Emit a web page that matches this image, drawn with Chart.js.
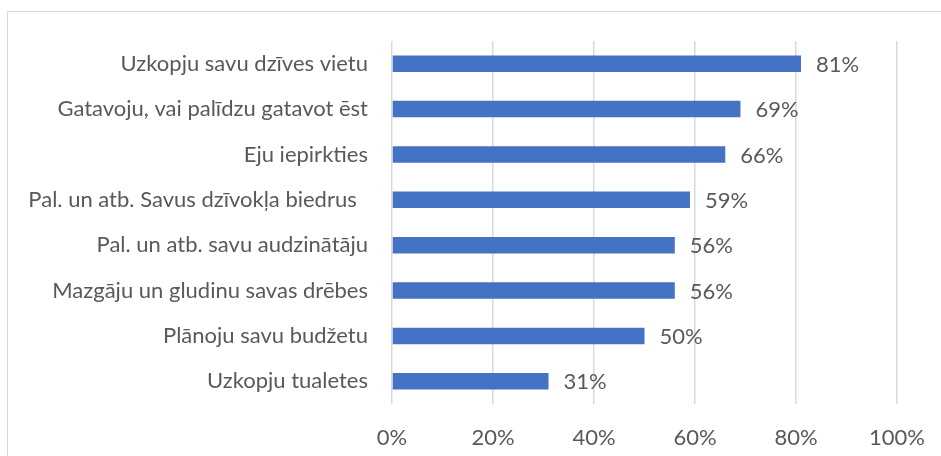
<!DOCTYPE html>
<html>
<head>
<meta charset="utf-8">
<script src="https://cdn.jsdelivr.net/npm/chart.js@4/dist/chart.umd.min.js"></script>
<style>
html,body{margin:0;padding:0;background:#fff;overflow:hidden;}
#wrap{position:relative;width:941px;height:456px;}
#frame{position:absolute;left:7px;top:11px;width:1000px;height:500px;border:1.5px solid #d9d9d9;box-sizing:border-box;}
canvas{position:absolute;left:0;top:0;}
</style>
</head>
<body>
<div id="wrap">
<div id="frame"></div>
<canvas id="c" width="941" height="456"></canvas>
</div>
<script>
const categories = [
  "Uzkopju savu dzīves vietu",
  "Gatavoju, vai palīdzu gatavot ēst",
  "Eju iepirkties",
  "Pal. un atb. Savus dzīvokļa biedrus  ",
  "Pal. un atb. savu audzinātāju",
  "Mazgāju un gludinu savas drēbes",
  "Plānoju savu budžetu",
  "Uzkopju tualetes"
];
const values = [81, 69, 66, 59, 56, 56, 50, 31];
const tickValues = [0, 20, 40, 60, 80, 100];

const FONT = "Lato, 'Open Sans', sans-serif";
const TEXT = "#595959";
const FS = 22;

const valueLabels = {
  id: 'valueLabels',
  afterDatasetsDraw(chart) {
    const ctx = chart.ctx;
    const meta = chart.getDatasetMeta(0);
    ctx.save();
    ctx.font = FS + "px " + FONT;
    ctx.fillStyle = TEXT;
    ctx.textAlign = 'left';
    ctx.textBaseline = 'middle';
    meta.data.forEach((bar, i) => {
      ctx.fillText(values[i] + '%', bar.x + 15, bar.y + 1);
    });
    ctx.restore();
  }
};

new Chart(document.getElementById('c'), {
  type: 'bar',
  data: {
    labels: categories,
    datasets: [{
      data: values,
      backgroundColor: '#4472c4',
      borderWidth: 0,
      categoryPercentage: 1,
      barPercentage: 0.365
    }]
  },
  options: {
    indexAxis: 'y',
    responsive: false,
    animation: false,
    devicePixelRatio: 1,
    layout: { padding: { left: 0, right: 44, top: 41, bottom: 0 } },
    plugins: { legend: { display: false }, tooltip: { enabled: false } },
    scales: {
      x: {
        min: 0, max: 100,
        afterBuildTicks(scale) { scale.ticks = tickValues.map(v => ({ value: v })); },
        afterFit(scale) { scale.height = 52; scale.paddingRight = 0; scale.paddingLeft = 0; },
        grid: { color: '#d9d9d9', lineWidth: 1.5, drawTicks: false },
        border: { display: false },
        ticks: {
          padding: 21,
          color: TEXT,
          font: { family: FONT, size: FS },
          callback: v => v + '%'
        }
      },
      y: {
        afterFit(scale) { scale.width = 392; scale.paddingTop = 0; scale.paddingBottom = 0; },
        grid: { display: false, drawTicks: false },
        border: { display: false },
        ticks: {
          padding: 24,
          color: TEXT,
          font: { family: FONT, size: FS },
          autoSkip: false
        }
      }
    }
  },
  plugins: [valueLabels]
});
</script>
</body>
</html>
